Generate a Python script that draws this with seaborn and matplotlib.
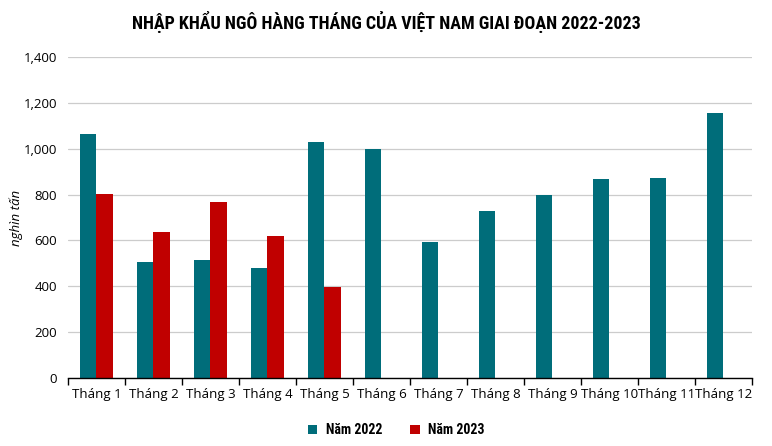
#!/usr/bin/env python3
# Monthly corn imports of Vietnam, 2022 vs 2023

import numpy as np
import pandas as pd
import seaborn as sns
import matplotlib.pyplot as plt

sns.set_style("white")

plt.rcParams['font.family'] = ['Open Sans', 'DejaVu Sans']
plt.rcParams['text.color'] = 'black'
plt.rcParams['xtick.color'] = 'black'
plt.rcParams['ytick.color'] = 'black'
plt.rcParams['axes.labelcolor'] = 'black'

NARROW = ['Roboto Condensed', 'Open Sans', 'DejaVu Sans']

MONTHS = ["Tháng {}".format(i) for i in range(1, 13)]
Y2022 = [1063, 505, 513, 481, 1029, 1000, 593, 728, 798, 868, 872, 1156]
Y2023 = [802, 637, 766, 619, 397, np.nan, np.nan, np.nan, np.nan, np.nan, np.nan, np.nan]
SERIES = ["Năm 2022", "Năm 2023"]
COLORS = ["#006D7A", "#C00000"]


def plot(outpath="out.png"):
    df = pd.DataFrame({
        "month": MONTHS * 2,
        "value": Y2022 + Y2023,
        "year": [SERIES[0]] * 12 + [SERIES[1]] * 12,
    })

    fig = plt.figure(figsize=(7.72, 4.46), dpi=100)
    ax = fig.add_axes([0.088, 0.1525, 0.886, 0.7195])

    sns.barplot(x="month", y="value", hue="year", data=df, ax=ax,
                palette=COLORS, width=0.58, gap=0, saturation=1,
                linewidth=0, legend=True)

    ax.set_ylim(0, 1400)
    ax.set_xlim(-0.5, 11.5)
    ax.set_yticks(np.arange(0, 1401, 200))
    ax.yaxis.set_major_formatter(plt.FuncFormatter(lambda v, p: "{:,.0f}".format(v)))
    ax.grid(axis="y", color="#cccccc", linewidth=0.9)
    ax.set_axisbelow(True)

    for s in ["left", "right", "top"]:
        ax.spines[s].set_visible(False)
    ax.spines["bottom"].set_color("black")
    ax.spines["bottom"].set_linewidth(1.0)

    ax.set_xticks(np.arange(-0.5, 12, 1), minor=True)
    ax.tick_params(axis="x", which="major", length=0, labelsize=9.5, pad=7)
    ax.tick_params(axis="x", which="minor", length=5, width=1, direction="out",
                   color="black", bottom=True)
    ax.tick_params(axis="y", length=0, labelsize=9.5, pad=8)

    ax.set_xlabel("")
    ax.set_ylabel("nghìn tấn", fontstyle="italic", fontsize=9.5)
    ax.yaxis.set_label_coords(-0.066, 0.5)

    fig.suptitle("NHẬP KHẨU NGÔ HÀNG THÁNG CỦA VIỆT NAM GIAI ĐOẠN 2022-2023",
                 fontsize=13, fontweight="bold", family=NARROW,
                 x=0.5, y=0.975)

    handles, labels = ax.get_legend_handles_labels()
    ax.get_legend().remove()
    fig.legend(handles, labels, loc="center", bbox_to_anchor=(0.513, 0.035),
               ncol=2, frameon=False, handlelength=0.7, handleheight=0.7,
               columnspacing=2.0, handletextpad=0.6,
               prop={"weight": "bold", "size": 10, "family": NARROW})

    fig.savefig(outpath, dpi=100)


if __name__ == '__main__':
    plot()
